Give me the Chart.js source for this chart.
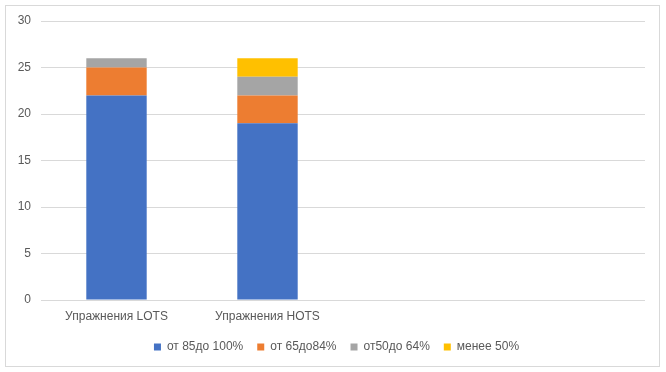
<!DOCTYPE html>
<html lang="ru">
<head>
<meta charset="UTF-8">
<title>Упражнения LOTS / HOTS</title>
<script src="https://cdn.jsdelivr.net/npm/chart.js"></script>
<style>
  html, body { margin: 0; padding: 0; background: #fff; }
  #wrap { width: 666px; height: 372px; }
</style>
</head>
<body>
<div id="wrap"><canvas id="chart" width="666" height="372"></canvas></div>
<script>
// categories (two empty slots on the right, as in the original sheet)
const categories = ['Упражнения LOTS', 'Упражнения HOTS', '', ''];
const seriesNames = ['от 85до 100%', 'от 65до84%', 'от50до 64%', 'менее 50%'];
const s85to100 = [22, 19, null, null];
const s65to84 = [3, 3, null, null];
const s50to64 = [1, 2, null, null];
const sUnder50 = [0, 2, null, null];
const yTicks = [0, 5, 10, 15, 20, 25, 30];

const colors = ['#4472C4', '#ED7D31', '#A5A5A5', '#FFC000'];
const seriesData = [s85to100, s65to84, s50to64, sUnder50];

// light frame round the whole chart, and legend nudged to the centre of the frame
const framePlugin = {
    id: 'frame',
    afterLayout(chart) {
        chart.legend.left += 14;
        chart.legend.right += 14;
    },
    beforeDraw(chart) {
        const c = chart.ctx;
        c.save();
        c.strokeStyle = '#d9d9d9';
        c.lineWidth = 1;
        c.strokeRect(5.5, 5.5, 654, 361);
        c.restore();
    }
};

const ctx = document.getElementById('chart').getContext('2d');
new Chart(ctx, {
    type: 'bar',
    data: {
        labels: categories,
        datasets: seriesNames.map((name, i) => ({
            label: name,
            data: seriesData[i],
            backgroundColor: colors[i],
            borderWidth: 0,
            categoryPercentage: 1,
            barPercentage: 0.4
        }))
    },
    options: {
        responsive: false,
        animation: false,
        layout: { padding: { left: 0, right: 21, top: 21, bottom: 9 } },
        plugins: {
            tooltip: { enabled: false },
            legend: {
                position: 'bottom',
                labels: {
                    boxWidth: 7,
                    boxHeight: 7,
                    padding: 14,
                    color: '#595959',
                    font: { family: 'Liberation Sans', size: 12 }
                }
            }
        },
        scales: {
            x: {
                stacked: true,
                grid: { display: false },
                border: { display: false },
                ticks: {
                    color: '#595959',
                    padding: 1,
                    maxRotation: 0,
                    font: { family: 'Liberation Sans', size: 12 }
                },
                afterFit(scale) { scale.height = 27; }
            },
            y: {
                stacked: true,
                min: 0,
                max: 30,
                afterBuildTicks(scale) { scale.ticks = yTicks.map(v => ({ value: v })); },
                grid: { color: '#d9d9d9', drawTicks: false },
                border: { display: false },
                ticks: {
                    color: '#595959',
                    padding: 10,
                    font: { family: 'Liberation Sans', size: 12 }
                },
                afterFit(scale) { scale.width = 41; }
            }
        }
    },
    plugins: [framePlugin]
});
</script>
</body>
</html>
